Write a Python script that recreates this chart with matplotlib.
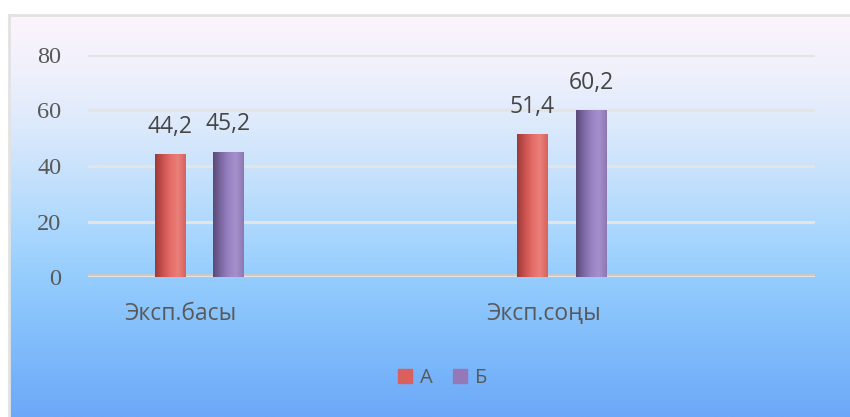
import numpy as np
import matplotlib.pyplot as plt
from matplotlib.colors import LinearSegmentedColormap
from matplotlib.patches import Rectangle

# --- data ---
categories = ['Эксп.басы', 'Эксп.соңы']
series_names = ['А', 'Б']
values_a = [44.2, 51.4]
values_b = [45.2, 60.2]
value_labels_a = ['44,2', '51,4']
value_labels_b = ['45,2', '60,2']
yticks = [0, 20, 40, 60, 80]

W, H = 850, 417
fig = plt.figure(figsize=(W / 100, H / 100), dpi=100)
fig.patch.set_facecolor('white')

# --- background panel gradient ---
bg = fig.add_axes([9 / W, 0, 1 - 9 / W, (H - 15) / H])
bg_cmap = LinearSegmentedColormap.from_list('bg', [
    (0.00, '#fdf4fb'), (0.15, '#eef0fc'), (0.30, '#d8e8fb'),
    (0.50, '#b2dafd'), (0.65, '#95cdfd'), (0.82, '#80bcfb'),
    (1.00, '#6ca8f8')])
grad = np.linspace(0, 1, 256).reshape(-1, 1)
bg.imshow(grad, aspect='auto', cmap=bg_cmap, extent=[0, 1, 0, 1], origin='upper')
bg.set_xlim(0, 1)
bg.set_ylim(0, 1)
bg.axis('off')
# light border on left and top
fig.add_artist(plt.Line2D([9 / W, 9 / W], [0, (H - 15) / H], color='#e2e2e2', lw=2))
fig.add_artist(plt.Line2D([9 / W, 1], [(H - 15) / H, (H - 15) / H], color='#e2e2e2', lw=2))

# --- main axes ---
ax = fig.add_axes([88 / W, (H - 277) / H, (815 - 88) / W, (277 - 55) / H])
ax.patch.set_alpha(0)
x = np.arange(len(categories))
bw = 0.083
off = 0.081

for yv in yticks[1:]:
    ax.axhline(yv, color='#e4e4e4', lw=2.2, zorder=1)
ax.axhline(0, color='#c9c9c9', lw=4.5, zorder=1)
ax.axhline(0, color='#e9e9e9', lw=1.2, zorder=1)

bars_a = ax.bar(x - off, values_a, bw, color='#d9605c', zorder=2)
bars_b = ax.bar(x + off, values_b, bw, color='#9478b8', zorder=2)

red_cmap = LinearSegmentedColormap.from_list('r', ['#9c3a38', '#c9524f', '#e56c68', '#e9807a', '#d8625e'])
pur_cmap = LinearSegmentedColormap.from_list('p', ['#5a4a78', '#7c68a2', '#9a82c2', '#a590cc', '#8e78b4'])
hgrad = np.linspace(0, 1, 64).reshape(1, -1)
for bars, cm in [(bars_a, red_cmap), (bars_b, pur_cmap)]:
    for b in bars:
        x0, y0 = b.get_x(), b.get_y()
        im = ax.imshow(hgrad, aspect='auto', cmap=cm,
                       extent=[x0, x0 + b.get_width(), y0, y0 + b.get_height()], zorder=3)
        im.set_clip_path(b)

lab_font = ['Open Sans', 'DejaVu Sans']
for bars, labels in [(bars_a, value_labels_a), (bars_b, value_labels_b)]:
    for b, t in zip(bars, labels):
        ax.text(b.get_x() + b.get_width() / 2, b.get_height() + 5.5, t,
                ha='center', va='bottom', fontsize=16.5, color='#454545', family=lab_font)

ax.set_xlim(-0.306, 1.699)
ax.set_ylim(0, 80)
ax.set_yticks(yticks)
ax.set_yticklabels([str(v) for v in yticks], family=['Liberation Serif', 'DejaVu Serif'],
                   fontsize=17.5, color='#595959')
ax.set_xticks(x - 0.05)
ax.set_xticklabels(categories, family=lab_font, fontsize=16.5, color='#595959')
ax.tick_params(axis='y', length=0, pad=19)
ax.tick_params(axis='x', length=0, pad=18)
for s in ax.spines.values():
    s.set_visible(False)

# --- legend ---
handles = [Rectangle((0, 0), 1, 1, color='#d9605c'), Rectangle((0, 0), 1, 1, color='#9478b8')]
leg = fig.legend(handles, series_names, loc='center', bbox_to_anchor=(0.521, 0.094), ncol=2,
                 frameon=False, handlelength=0.7, handleheight=0.7, handletextpad=0.4,
                 columnspacing=1.0, prop={'family': lab_font, 'size': 14.5})
for t in leg.get_texts():
    t.set_color('#595959')

fig.savefig('out.png', dpi=100)
